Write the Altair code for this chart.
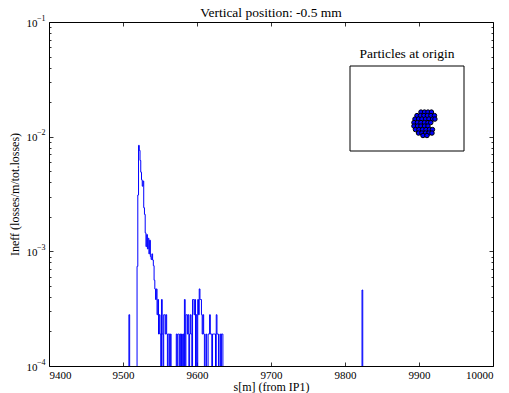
import altair as alt
import pandas as pd

# ---------------- data ----------------
# Step histogram: bin left edge s [m] (1 m bins) and normalised losses
hist_s = [9508,
          9519, 9520, 9521, 9522, 9523, 9524, 9525, 9526, 9527, 9528, 9529,
          9530, 9531, 9532, 9533, 9534, 9535, 9536, 9537, 9538, 9539, 9540,
          9541, 9542, 9543, 9544, 9545, 9546, 9547, 9548, 9549, 9550, 9552,
          9553, 9555, 9556, 9557, 9558, 9559, 9561, 9562, 9564,
          9572, 9574, 9575, 9577, 9579, 9581, 9583, 9585, 9586, 9587, 9588,
          9590, 9591, 9592, 9594, 9595, 9596, 9597, 9599, 9601, 9602, 9603,
          9604, 9605, 9606, 9607, 9608, 9609, 9612, 9615, 9616, 9617, 9618,
          9619, 9621, 9622, 9623, 9624, 9626, 9627, 9628, 9631, 9633, 9634,
          9823]
hist_v = [2.8e-4,
          7.4e-4, 3.1e-3, 8.4e-3, 7.6e-3, 6.2e-3, 4.9e-3, 4.2e-3, 3.7e-3, 4.1e-3, 2.4e-3, 2.1e-3,
          1.45e-3, 1.1e-3, 1.4e-3, 1.05e-3, 1.3e-3, 9.5e-4, 1.25e-3, 9.0e-4, 8.5e-4, 9.5e-4, 8.4e-4,
          7.5e-4, 5.6e-4, 4.7e-4, 3.8e-4, 4.7e-4, 2.8e-4, 3.8e-4, 1.9e-4, 2.8e-4, 1.9e-4, 3.8e-4,
          1.9e-4, 2.8e-4, 2.8e-4, 1.9e-4, 2.8e-4, 1.9e-4, 1.9e-4, 1.9e-4, 1.9e-4,
          1.9e-4, 1.9e-4, 1.9e-4, 1.9e-4, 1.9e-4, 1.9e-4, 3.8e-4, 2.8e-4, 2.8e-4, 1.9e-4, 2.8e-4,
          1.9e-4, 2.8e-4, 1.9e-4, 3.8e-4, 3.8e-4, 2.8e-4, 3.8e-4, 2.8e-4, 3.8e-4, 2.8e-4, 4.7e-4,
          3.8e-4, 3.8e-4, 2.8e-4, 1.9e-4, 2.8e-4, 1.9e-4, 1.9e-4, 1.9e-4, 1.9e-4, 2.8e-4, 1.9e-4,
          1.9e-4, 1.9e-4, 1.9e-4, 1.9e-4, 1.9e-4, 2.8e-4, 1.9e-4, 1.9e-4, 1.9e-4, 1.9e-4, 1.9e-4,
          4.6e-4]
hist_range = [9500, 9840]      # histogram extent (empty bins lie below the axis)
empty_bin = 1e-6

x_domain = [9400, 10000]
x_ticks = [9400, 9500, 9600, 9700, 9800, 9900, 10000]
y_domain = [1e-4, 1e-1]
y_major = [1e-4, 1e-3, 1e-2, 1e-1]
y_exponents = ["\u22124", "\u22123", "\u22122", "\u22121"]
y_minor = [2e-4, 3e-4, 4e-4, 5e-4, 6e-4, 7e-4, 8e-4, 9e-4,
           2e-3, 3e-3, 4e-3, 5e-3, 6e-3, 7e-3, 8e-3, 9e-3,
           2e-2, 3e-2, 4e-2, 5e-2, 6e-2, 7e-2, 8e-2, 9e-2]

# Inset: particles at origin
inset_title = "Particles at origin"
inset_xlim = [-6, 6]
inset_ylim = [-4.5, 4.5]
particle_x = [1.47, 1.84, 2.21, 2.57,
              1.05, 1.42, 1.78, 2.15, 2.52, 2.89,
              0.84, 1.21, 1.57, 1.94, 2.31, 2.68, 2.94,
              0.73, 1.10, 1.47, 1.84, 2.21, 2.50,
              0.73, 1.10, 1.47, 1.84, 2.21,
              0.89, 1.26, 1.63, 2.00, 2.36, 2.68,
              1.21, 1.57, 1.94, 2.31, 2.63,
              1.68, 2.10]
particle_y = [-0.38, -0.38, -0.38, -0.38,
              -0.75, -0.75, -0.75, -0.75, -0.75, -0.75,
              -1.12, -1.12, -1.12, -1.12, -1.12, -1.12, -1.12,
              -1.49, -1.49, -1.49, -1.49, -1.49, -1.49,
              -1.86, -1.86, -1.86, -1.86, -1.86,
              -2.23, -2.23, -2.23, -2.23, -2.23, -2.23,
              -2.60, -2.60, -2.60, -2.60, -2.60,
              -2.86, -2.86]

title = "Vertical position: -0.5 mm"
x_title = "s[m] (from IP1)"
y_title = "Ineff (losses/m/tot.losses)"

# ---------------- layout ----------------
W, H = 444, 344
FONT = "Liberation Serif"
BLUE = "#0000ff"

lookup = dict(zip(hist_s, hist_v))
s_all = list(range(hist_range[0], hist_range[1] + 1))
hist = pd.DataFrame({"s": s_all, "v": [lookup.get(s, empty_bin) for s in s_all]})

xs = alt.Scale(domain=x_domain, nice=False, zero=False)
ys = alt.Scale(type="log", domain=y_domain, nice=False)

exp_expr = ("datum.value > 0.05 ? '%s' : datum.value > 0.005 ? '%s' : "
            "datum.value > 0.0005 ? '%s' : '%s'") % tuple(reversed(y_exponents))

main = alt.Chart(hist).mark_line(interpolate="step-after", color=BLUE, strokeWidth=1, clip=True).encode(
    x=alt.X("s:Q", scale=xs, axis=alt.Axis(
        orient="bottom", values=x_ticks, format="d", ticks=False, tickSize=0, domain=False, grid=False,
        labelPadding=3, labelFontSize=11, labelFont=FONT, labelColor="black",
        title=x_title, titleFont=FONT, titleFontSize=12, titleFontWeight="normal", titleColor="black",
        titleX=W / 2, titleY=20, titleBaseline="middle", titleAlign="center")),
    y=alt.Y("v:Q", scale=ys, axis=alt.Axis(
        orient="left", values=y_major, labelExpr="'10'", ticks=False, tickSize=0, domain=False, grid=False,
        labelPadding=12, labelFontSize=11, labelFont=FONT, labelColor="black", labelBaseline="middle",
        labelOffset=1,
        title=y_title, titleFont=FONT, titleFontSize=12, titleFontWeight="normal", titleColor="black",
        titleX=-35, titleY=H / 2, titleAngle=-90, titleBaseline="middle", titleAlign="center")),
)


def tick_axis(orient, offset, values, size):
    return alt.Axis(orient=orient, offset=offset, values=values, tickSize=size, ticks=True,
                    labels=False, domain=False, grid=False, title=None,
                    tickColor="black", tickWidth=0.8)


def tick_layer(xaxis, yaxis):
    return alt.Chart(hist).mark_line(opacity=0).encode(
        x=alt.X("s:Q", scale=xs, axis=xaxis),
        y=alt.Y("v:Q", scale=ys, axis=yaxis),
    )


t1 = tick_layer(tick_axis("top", -H, x_ticks, 4), tick_axis("right", -W, y_major, 4))
t2 = tick_layer(tick_axis("bottom", -H, x_ticks, 4), tick_axis("right", -W, y_minor, 2))
t3 = tick_layer(None, tick_axis("left", -W, y_major, 4))
t4 = tick_layer(None, tick_axis("left", -W, y_minor, 2))
# exponent part of the y tick labels (superscript)
t5 = tick_layer(None, alt.Axis(orient="left", values=y_major, labelExpr=exp_expr, ticks=False, tickSize=0,
                               domain=False, grid=False, title=None, labelPadding=4, labelFontSize=8,
                               labelFont=FONT, labelColor="black", labelBaseline="middle", labelOffset=-4))

# inset, drawn on its own scales placed in the upper right of the plot
ixs = alt.Scale(domain=inset_xlim, range=[301, 415], nice=False, zero=False)
iys = alt.Scale(domain=inset_ylim, range=[129, 44], nice=False, zero=False)

box_df = pd.DataFrame({"x0": [inset_xlim[0]], "x1": [inset_xlim[1]],
                       "y0": [inset_ylim[0]], "y1": [inset_ylim[1]],
                       "xm": [(inset_xlim[0] + inset_xlim[1]) / 2], "t": [inset_title]})
box = alt.Chart(box_df).mark_rect(fillOpacity=0, stroke="black", strokeWidth=1).encode(
    x=alt.X("x0:Q", scale=ixs, axis=None), x2="x1:Q",
    y=alt.Y("y0:Q", scale=iys, axis=None), y2="y1:Q",
)
box_title = alt.Chart(box_df).mark_text(font=FONT, fontSize=13.5, color="black",
                                        baseline="middle", dy=-12).encode(
    x=alt.X("xm:Q", scale=ixs, axis=None),
    y=alt.Y("y1:Q", scale=iys, axis=None),
    text="t:N",
)
pts = alt.Chart(pd.DataFrame({"px": particle_x, "py": particle_y})).mark_circle(
    size=20, fill=BLUE, stroke="black", strokeWidth=1, opacity=1).encode(
    x=alt.X("px:Q", scale=ixs, axis=None),
    y=alt.Y("py:Q", scale=iys, axis=None),
)

# chart title, placed above the plot frame
title_layer = alt.Chart(pd.DataFrame({"t": [title]})).mark_text(
    font=FONT, fontSize=13.5, color="black", baseline="middle", align="center").encode(
    x=alt.value(W / 2), y=alt.value(-9), text="t:N")

chart = alt.layer(main, t1, t2, t3, t4, t5, box, box_title, pts, title_layer).resolve_scale(
    x="independent", y="independent"
).resolve_axis(
    x="independent", y="independent"
).properties(
    width=W, height=H,
    autosize=alt.AutoSizeParams(type="none"),
    padding={"left": 49, "top": 22, "right": 16, "bottom": 27},
    background="white",
).configure_view(stroke="black", strokeWidth=1)

chart.save("out.html", embed_options={"renderer": "svg", "actions": False})
